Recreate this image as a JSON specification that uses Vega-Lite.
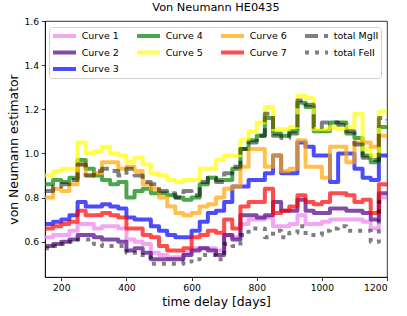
{
"$schema": "https://vega.github.io/schema/vega-lite/v6.json",
"width": 342, "height": 256,
"autosize": {"type": "none"},
"padding": {"left": 45, "top": 21, "right": 20, "bottom": 39},
"background": "white",
"title": {"text": "Von Neumann HE0435", "fontSize": 11.3, "fontWeight": "normal", "font": "DejaVu Sans", "offset": 4, "color": "black"},
"data": {"values": [
{"s":"Curve 1","x":150,"y":0.62},{"s":"Curve 1","x":175,"y":0.63},{"s":"Curve 1","x":200,"y":0.63},{"s":"Curve 1","x":225,"y":0.65},{"s":"Curve 1","x":250,"y":0.68},{"s":"Curve 1","x":275,"y":0.68},{"s":"Curve 1","x":300,"y":0.66},{"s":"Curve 1","x":325,"y":0.67},{"s":"Curve 1","x":350,"y":0.67},{"s":"Curve 1","x":375,"y":0.66},{"s":"Curve 1","x":400,"y":0.61},{"s":"Curve 1","x":425,"y":0.60},{"s":"Curve 1","x":450,"y":0.59},{"s":"Curve 1","x":475,"y":0.55},{"s":"Curve 1","x":500,"y":0.54},{"s":"Curve 1","x":525,"y":0.53},{"s":"Curve 1","x":550,"y":0.53},{"s":"Curve 1","x":575,"y":0.55},{"s":"Curve 1","x":600,"y":0.57},{"s":"Curve 1","x":625,"y":0.57},{"s":"Curve 1","x":650,"y":0.57},{"s":"Curve 1","x":675,"y":0.56},{"s":"Curve 1","x":700,"y":0.63},{"s":"Curve 1","x":725,"y":0.62},{"s":"Curve 1","x":750,"y":0.68},{"s":"Curve 1","x":775,"y":0.70},{"s":"Curve 1","x":800,"y":0.70},{"s":"Curve 1","x":825,"y":0.71},{"s":"Curve 1","x":850,"y":0.67},{"s":"Curve 1","x":875,"y":0.67},{"s":"Curve 1","x":900,"y":0.68},{"s":"Curve 1","x":925,"y":0.72},{"s":"Curve 1","x":950,"y":0.68},{"s":"Curve 1","x":975,"y":0.68},{"s":"Curve 1","x":1000,"y":0.69},{"s":"Curve 1","x":1025,"y":0.70},{"s":"Curve 1","x":1050,"y":0.70},{"s":"Curve 1","x":1075,"y":0.70},{"s":"Curve 1","x":1100,"y":0.70},{"s":"Curve 1","x":1125,"y":0.69},{"s":"Curve 1","x":1150,"y":0.66},{"s":"Curve 1","x":1175,"y":0.80},{"s":"Curve 1","x":1200,"y":0.80},
{"s":"Curve 2","x":150,"y":0.58},{"s":"Curve 2","x":175,"y":0.59},{"s":"Curve 2","x":200,"y":0.60},{"s":"Curve 2","x":225,"y":0.61},{"s":"Curve 2","x":250,"y":0.63},{"s":"Curve 2","x":275,"y":0.63},{"s":"Curve 2","x":300,"y":0.62},{"s":"Curve 2","x":325,"y":0.61},{"s":"Curve 2","x":350,"y":0.61},{"s":"Curve 2","x":375,"y":0.60},{"s":"Curve 2","x":400,"y":0.56},{"s":"Curve 2","x":425,"y":0.57},{"s":"Curve 2","x":450,"y":0.55},{"s":"Curve 2","x":475,"y":0.52},{"s":"Curve 2","x":500,"y":0.52},{"s":"Curve 2","x":525,"y":0.52},{"s":"Curve 2","x":550,"y":0.52},{"s":"Curve 2","x":575,"y":0.54},{"s":"Curve 2","x":600,"y":0.56},{"s":"Curve 2","x":625,"y":0.57},{"s":"Curve 2","x":650,"y":0.56},{"s":"Curve 2","x":675,"y":0.54},{"s":"Curve 2","x":700,"y":0.63},{"s":"Curve 2","x":725,"y":0.61},{"s":"Curve 2","x":750,"y":0.72},{"s":"Curve 2","x":775,"y":0.72},{"s":"Curve 2","x":800,"y":0.71},{"s":"Curve 2","x":825,"y":0.72},{"s":"Curve 2","x":850,"y":0.78},{"s":"Curve 2","x":875,"y":0.74},{"s":"Curve 2","x":900,"y":0.74},{"s":"Curve 2","x":925,"y":0.79},{"s":"Curve 2","x":950,"y":0.74},{"s":"Curve 2","x":975,"y":0.73},{"s":"Curve 2","x":1000,"y":0.73},{"s":"Curve 2","x":1025,"y":0.75},{"s":"Curve 2","x":1050,"y":0.75},{"s":"Curve 2","x":1075,"y":0.74},{"s":"Curve 2","x":1100,"y":0.74},{"s":"Curve 2","x":1125,"y":0.73},{"s":"Curve 2","x":1150,"y":0.70},{"s":"Curve 2","x":1175,"y":0.82},{"s":"Curve 2","x":1200,"y":0.82},
{"s":"Curve 3","x":150,"y":0.68},{"s":"Curve 3","x":175,"y":0.69},{"s":"Curve 3","x":200,"y":0.70},{"s":"Curve 3","x":225,"y":0.72},{"s":"Curve 3","x":250,"y":0.78},{"s":"Curve 3","x":275,"y":0.76},{"s":"Curve 3","x":300,"y":0.76},{"s":"Curve 3","x":325,"y":0.77},{"s":"Curve 3","x":350,"y":0.76},{"s":"Curve 3","x":375,"y":0.75},{"s":"Curve 3","x":400,"y":0.71},{"s":"Curve 3","x":425,"y":0.70},{"s":"Curve 3","x":450,"y":0.70},{"s":"Curve 3","x":475,"y":0.67},{"s":"Curve 3","x":500,"y":0.65},{"s":"Curve 3","x":525,"y":0.63},{"s":"Curve 3","x":550,"y":0.62},{"s":"Curve 3","x":575,"y":0.62},{"s":"Curve 3","x":600,"y":0.65},{"s":"Curve 3","x":625,"y":0.69},{"s":"Curve 3","x":650,"y":0.73},{"s":"Curve 3","x":675,"y":0.74},{"s":"Curve 3","x":700,"y":0.78},{"s":"Curve 3","x":725,"y":0.85},{"s":"Curve 3","x":750,"y":0.85},{"s":"Curve 3","x":775,"y":0.88},{"s":"Curve 3","x":800,"y":0.88},{"s":"Curve 3","x":825,"y":0.91},{"s":"Curve 3","x":850,"y":0.99},{"s":"Curve 3","x":875,"y":0.91},{"s":"Curve 3","x":900,"y":0.91},{"s":"Curve 3","x":925,"y":1.05},{"s":"Curve 3","x":950,"y":1.03},{"s":"Curve 3","x":975,"y":0.99},{"s":"Curve 3","x":1000,"y":0.99},{"s":"Curve 3","x":1025,"y":0.87},{"s":"Curve 3","x":1050,"y":1.00},{"s":"Curve 3","x":1075,"y":1.00},{"s":"Curve 3","x":1100,"y":0.93},{"s":"Curve 3","x":1125,"y":0.89},{"s":"Curve 3","x":1150,"y":0.88},{"s":"Curve 3","x":1175,"y":0.99},{"s":"Curve 3","x":1200,"y":0.99},
{"s":"Curve 4","x":150,"y":0.86},{"s":"Curve 4","x":175,"y":0.88},{"s":"Curve 4","x":200,"y":0.87},{"s":"Curve 4","x":225,"y":0.89},{"s":"Curve 4","x":250,"y":0.97},{"s":"Curve 4","x":275,"y":0.93},{"s":"Curve 4","x":300,"y":0.90},{"s":"Curve 4","x":325,"y":0.88},{"s":"Curve 4","x":350,"y":0.86},{"s":"Curve 4","x":375,"y":0.87},{"s":"Curve 4","x":400,"y":0.80},{"s":"Curve 4","x":425,"y":0.83},{"s":"Curve 4","x":450,"y":0.84},{"s":"Curve 4","x":475,"y":0.82},{"s":"Curve 4","x":500,"y":0.82},{"s":"Curve 4","x":525,"y":0.81},{"s":"Curve 4","x":550,"y":0.80},{"s":"Curve 4","x":575,"y":0.79},{"s":"Curve 4","x":600,"y":0.80},{"s":"Curve 4","x":625,"y":0.86},{"s":"Curve 4","x":650,"y":0.89},{"s":"Curve 4","x":675,"y":0.88},{"s":"Curve 4","x":700,"y":0.88},{"s":"Curve 4","x":725,"y":0.93},{"s":"Curve 4","x":750,"y":1.02},{"s":"Curve 4","x":775,"y":1.06},{"s":"Curve 4","x":800,"y":1.08},{"s":"Curve 4","x":825,"y":1.16},{"s":"Curve 4","x":850,"y":1.09},{"s":"Curve 4","x":875,"y":1.08},{"s":"Curve 4","x":900,"y":1.10},{"s":"Curve 4","x":925,"y":1.23},{"s":"Curve 4","x":950,"y":1.21},{"s":"Curve 4","x":975,"y":1.10},{"s":"Curve 4","x":1000,"y":1.10},{"s":"Curve 4","x":1025,"y":1.14},{"s":"Curve 4","x":1050,"y":1.14},{"s":"Curve 4","x":1075,"y":1.09},{"s":"Curve 4","x":1100,"y":1.07},{"s":"Curve 4","x":1125,"y":0.99},{"s":"Curve 4","x":1150,"y":0.96},{"s":"Curve 4","x":1175,"y":1.12},{"s":"Curve 4","x":1200,"y":1.12},
{"s":"Curve 5","x":150,"y":0.90},{"s":"Curve 5","x":175,"y":0.92},{"s":"Curve 5","x":200,"y":0.93},{"s":"Curve 5","x":225,"y":0.93},{"s":"Curve 5","x":250,"y":1.05},{"s":"Curve 5","x":275,"y":1.00},{"s":"Curve 5","x":300,"y":1.01},{"s":"Curve 5","x":325,"y":1.03},{"s":"Curve 5","x":350,"y":1.00},{"s":"Curve 5","x":375,"y":0.99},{"s":"Curve 5","x":400,"y":0.96},{"s":"Curve 5","x":425,"y":0.98},{"s":"Curve 5","x":450,"y":0.95},{"s":"Curve 5","x":475,"y":0.91},{"s":"Curve 5","x":500,"y":0.90},{"s":"Curve 5","x":525,"y":0.88},{"s":"Curve 5","x":550,"y":0.87},{"s":"Curve 5","x":575,"y":0.88},{"s":"Curve 5","x":600,"y":0.88},{"s":"Curve 5","x":625,"y":0.93},{"s":"Curve 5","x":650,"y":0.93},{"s":"Curve 5","x":675,"y":0.97},{"s":"Curve 5","x":700,"y":0.99},{"s":"Curve 5","x":725,"y":0.99},{"s":"Curve 5","x":750,"y":1.06},{"s":"Curve 5","x":775,"y":1.10},{"s":"Curve 5","x":800,"y":1.14},{"s":"Curve 5","x":825,"y":1.21},{"s":"Curve 5","x":850,"y":1.11},{"s":"Curve 5","x":875,"y":1.11},{"s":"Curve 5","x":900,"y":1.12},{"s":"Curve 5","x":925,"y":1.26},{"s":"Curve 5","x":950,"y":1.25},{"s":"Curve 5","x":975,"y":1.11},{"s":"Curve 5","x":1000,"y":1.11},{"s":"Curve 5","x":1025,"y":1.12},{"s":"Curve 5","x":1050,"y":1.11},{"s":"Curve 5","x":1075,"y":1.12},{"s":"Curve 5","x":1100,"y":1.18},{"s":"Curve 5","x":1125,"y":1.02},{"s":"Curve 5","x":1150,"y":0.99},{"s":"Curve 5","x":1175,"y":1.19},{"s":"Curve 5","x":1200,"y":1.18},
{"s":"Curve 6","x":150,"y":0.80},{"s":"Curve 6","x":175,"y":0.84},{"s":"Curve 6","x":200,"y":0.83},{"s":"Curve 6","x":225,"y":0.86},{"s":"Curve 6","x":250,"y":0.95},{"s":"Curve 6","x":275,"y":0.90},{"s":"Curve 6","x":300,"y":0.91},{"s":"Curve 6","x":325,"y":0.96},{"s":"Curve 6","x":350,"y":0.96},{"s":"Curve 6","x":375,"y":0.93},{"s":"Curve 6","x":400,"y":0.94},{"s":"Curve 6","x":425,"y":0.92},{"s":"Curve 6","x":450,"y":0.86},{"s":"Curve 6","x":475,"y":0.84},{"s":"Curve 6","x":500,"y":0.80},{"s":"Curve 6","x":525,"y":0.76},{"s":"Curve 6","x":550,"y":0.73},{"s":"Curve 6","x":575,"y":0.72},{"s":"Curve 6","x":600,"y":0.73},{"s":"Curve 6","x":625,"y":0.76},{"s":"Curve 6","x":650,"y":0.77},{"s":"Curve 6","x":675,"y":0.80},{"s":"Curve 6","x":700,"y":0.84},{"s":"Curve 6","x":725,"y":0.85},{"s":"Curve 6","x":750,"y":0.94},{"s":"Curve 6","x":775,"y":1.02},{"s":"Curve 6","x":800,"y":1.02},{"s":"Curve 6","x":825,"y":0.94},{"s":"Curve 6","x":850,"y":0.99},{"s":"Curve 6","x":875,"y":0.92},{"s":"Curve 6","x":900,"y":0.93},{"s":"Curve 6","x":925,"y":1.06},{"s":"Curve 6","x":950,"y":0.94},{"s":"Curve 6","x":975,"y":0.94},{"s":"Curve 6","x":1000,"y":0.89},{"s":"Curve 6","x":1025,"y":1.03},{"s":"Curve 6","x":1050,"y":1.03},{"s":"Curve 6","x":1075,"y":0.96},{"s":"Curve 6","x":1100,"y":1.05},{"s":"Curve 6","x":1125,"y":1.05},{"s":"Curve 6","x":1150,"y":1.03},{"s":"Curve 6","x":1175,"y":1.08},{"s":"Curve 6","x":1200,"y":1.07},
{"s":"Curve 7","x":150,"y":0.66},{"s":"Curve 7","x":175,"y":0.67},{"s":"Curve 7","x":200,"y":0.68},{"s":"Curve 7","x":225,"y":0.69},{"s":"Curve 7","x":250,"y":0.74},{"s":"Curve 7","x":275,"y":0.72},{"s":"Curve 7","x":300,"y":0.72},{"s":"Curve 7","x":325,"y":0.73},{"s":"Curve 7","x":350,"y":0.72},{"s":"Curve 7","x":375,"y":0.71},{"s":"Curve 7","x":400,"y":0.66},{"s":"Curve 7","x":425,"y":0.66},{"s":"Curve 7","x":450,"y":0.63},{"s":"Curve 7","x":475,"y":0.62},{"s":"Curve 7","x":500,"y":0.58},{"s":"Curve 7","x":525,"y":0.56},{"s":"Curve 7","x":550,"y":0.56},{"s":"Curve 7","x":575,"y":0.57},{"s":"Curve 7","x":600,"y":0.62},{"s":"Curve 7","x":625,"y":0.63},{"s":"Curve 7","x":650,"y":0.65},{"s":"Curve 7","x":675,"y":0.64},{"s":"Curve 7","x":700,"y":0.70},{"s":"Curve 7","x":725,"y":0.66},{"s":"Curve 7","x":750,"y":0.76},{"s":"Curve 7","x":775,"y":0.78},{"s":"Curve 7","x":800,"y":0.78},{"s":"Curve 7","x":825,"y":0.84},{"s":"Curve 7","x":850,"y":0.73},{"s":"Curve 7","x":875,"y":0.74},{"s":"Curve 7","x":900,"y":0.76},{"s":"Curve 7","x":925,"y":0.81},{"s":"Curve 7","x":950,"y":0.78},{"s":"Curve 7","x":975,"y":0.77},{"s":"Curve 7","x":1000,"y":0.78},{"s":"Curve 7","x":1025,"y":0.82},{"s":"Curve 7","x":1050,"y":0.82},{"s":"Curve 7","x":1075,"y":0.81},{"s":"Curve 7","x":1100,"y":0.78},{"s":"Curve 7","x":1125,"y":0.79},{"s":"Curve 7","x":1150,"y":0.73},{"s":"Curve 7","x":1175,"y":0.86},{"s":"Curve 7","x":1200,"y":0.85},
{"s":"total MgII","x":150,"y":0.83},{"s":"total MgII","x":175,"y":0.85},{"s":"total MgII","x":200,"y":0.86},{"s":"total MgII","x":225,"y":0.88},{"s":"total MgII","x":250,"y":0.95},{"s":"total MgII","x":275,"y":0.90},{"s":"total MgII","x":300,"y":0.92},{"s":"total MgII","x":325,"y":0.93},{"s":"total MgII","x":350,"y":0.92},{"s":"total MgII","x":375,"y":0.90},{"s":"total MgII","x":400,"y":0.93},{"s":"total MgII","x":425,"y":0.90},{"s":"total MgII","x":450,"y":0.87},{"s":"total MgII","x":475,"y":0.86},{"s":"total MgII","x":500,"y":0.83},{"s":"total MgII","x":525,"y":0.82},{"s":"total MgII","x":550,"y":0.80},{"s":"total MgII","x":575,"y":0.83},{"s":"total MgII","x":600,"y":0.81},{"s":"total MgII","x":625,"y":0.87},{"s":"total MgII","x":650,"y":0.89},{"s":"total MgII","x":675,"y":0.87},{"s":"total MgII","x":700,"y":0.91},{"s":"total MgII","x":725,"y":0.94},{"s":"total MgII","x":750,"y":1.02},{"s":"total MgII","x":775,"y":1.05},{"s":"total MgII","x":800,"y":1.08},{"s":"total MgII","x":825,"y":1.18},{"s":"total MgII","x":850,"y":1.08},{"s":"total MgII","x":875,"y":1.07},{"s":"total MgII","x":900,"y":1.09},{"s":"total MgII","x":925,"y":1.24},{"s":"total MgII","x":950,"y":1.22},{"s":"total MgII","x":975,"y":1.12},{"s":"total MgII","x":1000,"y":1.14},{"s":"total MgII","x":1025,"y":1.14},{"s":"total MgII","x":1050,"y":1.13},{"s":"total MgII","x":1075,"y":1.10},{"s":"total MgII","x":1100,"y":1.04},{"s":"total MgII","x":1125,"y":0.98},{"s":"total MgII","x":1150,"y":0.97},{"s":"total MgII","x":1175,"y":1.16},{"s":"total MgII","x":1200,"y":1.15},
{"s":"total FeII","x":150,"y":0.57},{"s":"total FeII","x":175,"y":0.58},{"s":"total FeII","x":200,"y":0.59},{"s":"total FeII","x":225,"y":0.60},{"s":"total FeII","x":250,"y":0.61},{"s":"total FeII","x":275,"y":0.61},{"s":"total FeII","x":300,"y":0.59},{"s":"total FeII","x":325,"y":0.58},{"s":"total FeII","x":350,"y":0.58},{"s":"total FeII","x":375,"y":0.58},{"s":"total FeII","x":400,"y":0.55},{"s":"total FeII","x":425,"y":0.55},{"s":"total FeII","x":450,"y":0.53},{"s":"total FeII","x":475,"y":0.50},{"s":"total FeII","x":500,"y":0.50},{"s":"total FeII","x":525,"y":0.50},{"s":"total FeII","x":550,"y":0.50},{"s":"total FeII","x":575,"y":0.51},{"s":"total FeII","x":600,"y":0.52},{"s":"total FeII","x":625,"y":0.54},{"s":"total FeII","x":650,"y":0.54},{"s":"total FeII","x":675,"y":0.52},{"s":"total FeII","x":700,"y":0.59},{"s":"total FeII","x":725,"y":0.58},{"s":"total FeII","x":750,"y":0.63},{"s":"total FeII","x":775,"y":0.66},{"s":"total FeII","x":800,"y":0.66},{"s":"total FeII","x":825,"y":0.62},{"s":"total FeII","x":850,"y":0.65},{"s":"total FeII","x":875,"y":0.62},{"s":"total FeII","x":900,"y":0.64},{"s":"total FeII","x":925,"y":0.67},{"s":"total FeII","x":950,"y":0.63},{"s":"total FeII","x":975,"y":0.63},{"s":"total FeII","x":1000,"y":0.65},{"s":"total FeII","x":1025,"y":0.66},{"s":"total FeII","x":1050,"y":0.67},{"s":"total FeII","x":1075,"y":0.65},{"s":"total FeII","x":1100,"y":0.65},{"s":"total FeII","x":1125,"y":0.65},{"s":"total FeII","x":1150,"y":0.60},{"s":"total FeII","x":1175,"y":0.78},{"s":"total FeII","x":1200,"y":0.78}
]},
"mark": {"type": "line", "interpolate": "step-after", "strokeWidth": 4, "clip": true, "strokeJoin": "round"},
"encoding": {
  "x": {"field": "x", "type": "quantitative", "scale": {"domain": [150, 1200], "nice": false}, "axis": {"values": [200, 400, 600, 800, 1000, 1200], "format": "d", "title": "time delay [days]"}},
  "y": {"field": "y", "type": "quantitative", "scale": {"domain": [0.44, 1.6], "nice": false, "zero": false}, "axis": {"values": [0.6, 0.8, 1.0, 1.2, 1.4, 1.6], "format": ".1f", "title": "von Neumann estimator"}},
  "color": {"field": "s", "type": "nominal", "title": null,
    "scale": {"domain": ["Curve 1", "Curve 4", "Curve 6", "total MgII", "Curve 2", "Curve 5", "Curve 7", "total FeII", "Curve 3"],
      "range": ["rgba(238,130,238,0.7)", "rgba(0,128,0,0.7)", "rgba(255,165,0,0.7)", "rgba(0,0,0,0.5)", "rgba(75,0,130,0.7)", "rgba(255,255,0,0.7)", "rgba(255,0,0,0.7)", "rgba(0,0,0,0.5)", "rgba(0,0,255,0.7)"]},
    "legend": {"orient": "none", "direction": "horizontal", "legendX": 4, "legendY": 6, "columns": 4, "symbolType": "stroke", "symbolSize": 529, "symbolStrokeWidth": 4, "labelFontSize": 9.5, "labelFont": "DejaVu Sans", "labelColor": "black", "labelOffset": 3.7, "columnPadding": 16, "rowPadding": 2.5, "clipHeight": 14, "padding": 2, "strokeColor": "#d0d0d0", "fillColor": "white", "cornerRadius": 3, "gridAlign": "each"}},
  "strokeDash": {"field": "s", "type": "nominal", "title": null,
    "scale": {"domain": ["Curve 1", "Curve 4", "Curve 6", "total MgII", "Curve 2", "Curve 5", "Curve 7", "total FeII", "Curve 3"],
      "range": [[1, 0], [1, 0], [1, 0], [13, 6], [1, 0], [1, 0], [1, 0], [4, 6], [1, 0]]}}
},
"config": {
  "view": {"stroke": "black", "strokeWidth": 0.8},
  "axis": {"domainColor": "black", "domainWidth": 0.8, "tickColor": "black", "tickWidth": 0.8, "tickSize": 3.5, "labelColor": "black", "labelFont": "DejaVu Sans", "labelFontSize": 9.2, "labelPadding": 3, "titleFont": "DejaVu Sans", "titleFontSize": 12.4, "titleFontWeight": "normal", "titleColor": "black", "titlePadding": 3, "grid": false}
}
}
